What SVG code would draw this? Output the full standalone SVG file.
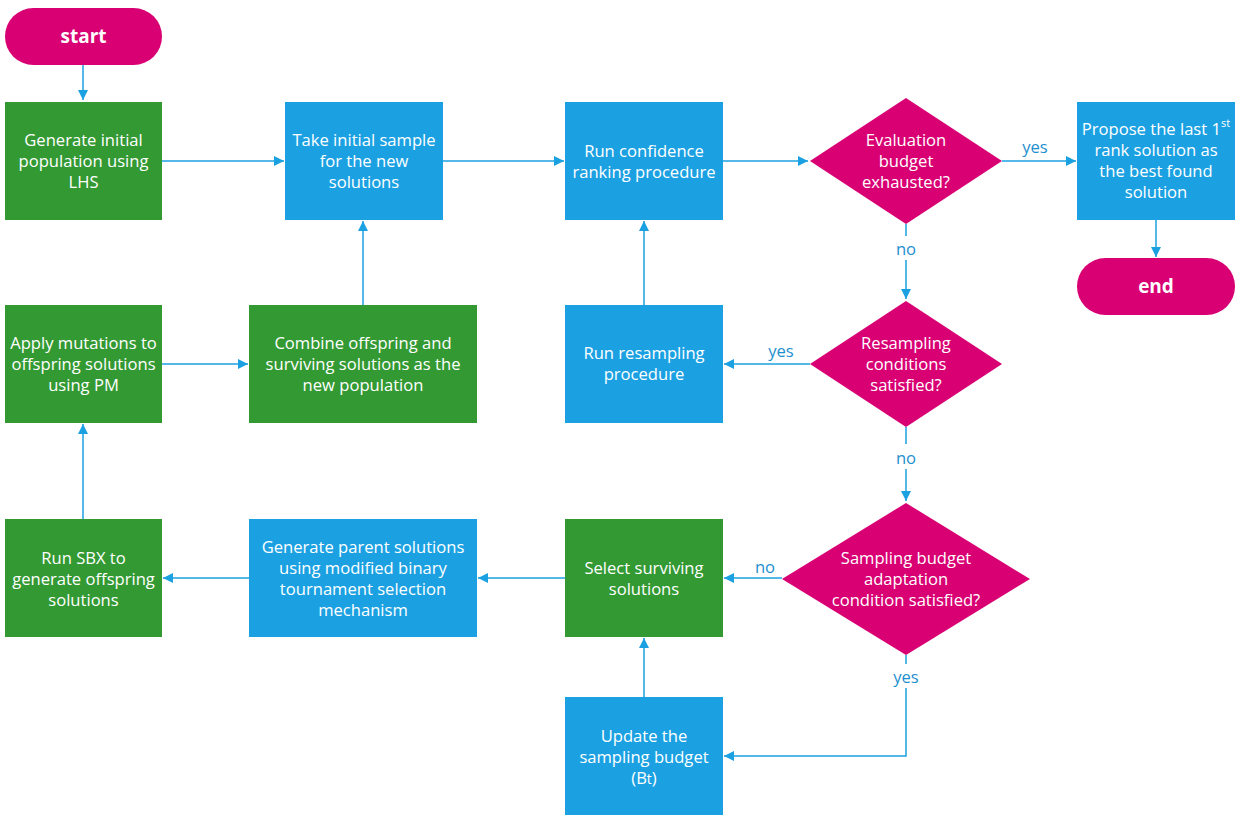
<svg xmlns="http://www.w3.org/2000/svg" width="1240" height="820" viewBox="0 0 1240 820">
<defs>
<marker id="ah" viewBox="0 0 10 10" refX="10" refY="5" markerWidth="10" markerHeight="10" markerUnits="userSpaceOnUse" orient="auto">
<path d="M0,0 L10,5 L0,10 z" fill="#1BA1E2"/>
</marker>
<style>
.g{fill:#339933}
.b{fill:#1BA1E2}
.m{fill:#D80073}
.t{font-family:"Open Sans","Noto Sans",sans-serif;font-size:16.6px;fill:#ffffff;text-anchor:middle;dominant-baseline:central}
.tb{font-family:"Open Sans","Noto Sans",sans-serif;font-size:19px;font-weight:bold;fill:#ffffff;text-anchor:middle;dominant-baseline:central}
.c{fill:none;stroke:#1BA1E2;stroke-width:1.5;marker-end:url(#ah)}
.cn{fill:none;stroke:#1BA1E2;stroke-width:1.5}
.l{font-family:"Open Sans","Noto Sans",sans-serif;font-size:16.6px;fill:#1E8FCF;text-anchor:middle;dominant-baseline:central}
</style>
</defs>
<rect width="1240" height="820" fill="#ffffff"/>
<g id="connectors">
<path class="c" d="M83,65 V100"/>
<path class="c" d="M162,161 H284"/>
<path class="c" d="M443,161 H564"/>
<path class="c" d="M723,161 H808"/>
<path class="c" d="M1002,161 H1076"/>
<text class="l" x="1035" y="146">yes</text>
<path class="c" d="M1156,220 V257"/>
<path class="cn" d="M906,224 V236"/>
<text class="l" x="906" y="248">no</text>
<path class="c" d="M906,260 V299"/>
<path class="c" d="M810,364 H724"/>
<text class="l" x="781" y="350">yes</text>
<path class="c" d="M644,305 V221"/>
<path class="cn" d="M906,427 V444"/>
<text class="l" x="906" y="457">no</text>
<path class="c" d="M906,469 V501"/>
<path class="c" d="M782,578 H724"/>
<text class="l" x="765" y="566">no</text>
<path class="cn" d="M906,655 V664"/>
<text class="l" x="906" y="676">yes</text>
<path class="c" d="M906,688 V756 H724"/>
<path class="c" d="M644,697 V638"/>
<path class="c" d="M565,578 H478"/>
<path class="c" d="M249,578 H163"/>
<path class="c" d="M83,519 V424"/>
<path class="c" d="M162,364 H248"/>
<path class="c" d="M363,305 V221"/>
</g>
<g id="start">
<rect class="m" x="5" y="8" width="157" height="57" rx="28.5"/>
<text class="tb" x="83.5" y="36">start</text>
</g>
<g id="gen-init">
<rect class="g" x="5" y="102" width="157" height="118"/>
<text class="t" x="83.5" y="139">Generate initial</text>
<text class="t" x="83.5" y="160">population using</text>
<text class="t" x="83.5" y="181">LHS</text>
</g>
<g id="take-sample">
<rect class="b" x="285" y="102" width="158" height="118"/>
<text class="t" x="364" y="139">Take initial sample</text>
<text class="t" x="364" y="160">for the new</text>
<text class="t" x="364" y="181">solutions</text>
</g>
<g id="run-ranking">
<rect class="b" x="565" y="102" width="158" height="118"/>
<text class="t" x="644" y="150">Run confidence</text>
<text class="t" x="644" y="171">ranking procedure</text>
</g>
<g id="eval-budget">
<polygon class="m" points="906,98 1002,161 906,224 810,161"/>
<text class="t" x="906" y="139">Evaluation</text>
<text class="t" x="906" y="160">budget</text>
<text class="t" x="906" y="181">exhausted?</text>
</g>
<g id="propose">
<rect class="b" x="1077" y="102" width="158" height="118"/>
<text class="t" x="1156" y="128">Propose the last 1<tspan font-size="11" dy="-6">st</tspan></text>
<text class="t" x="1156" y="149">rank solution as</text>
<text class="t" x="1156" y="170">the best found</text>
<text class="t" x="1156" y="191">solution</text>
</g>
<g id="end">
<rect class="m" x="1077" y="258" width="158" height="57" rx="28.5"/>
<text class="tb" x="1156" y="286">end</text>
</g>
<g id="apply-mutations">
<rect class="g" x="5" y="305" width="157" height="118"/>
<text class="t" x="83.5" y="342">Apply mutations to</text>
<text class="t" x="83.5" y="363">offspring solutions</text>
<text class="t" x="83.5" y="384">using PM</text>
</g>
<g id="combine">
<rect class="g" x="249" y="305" width="228" height="118"/>
<text class="t" x="363" y="342">Combine offspring and</text>
<text class="t" x="363" y="363">surviving solutions as the</text>
<text class="t" x="363" y="384">new population</text>
</g>
<g id="run-resampling">
<rect class="b" x="565" y="305" width="158" height="118"/>
<text class="t" x="644" y="352">Run resampling</text>
<text class="t" x="644" y="373">procedure</text>
</g>
<g id="resampling-cond">
<polygon class="m" points="906,301 1002,364 906,427 810,364"/>
<text class="t" x="906" y="342">Resampling</text>
<text class="t" x="906" y="363">conditions</text>
<text class="t" x="906" y="384">satisfied?</text>
</g>
<g id="run-sbx">
<rect class="g" x="5" y="519" width="157" height="118"/>
<text class="t" x="83.5" y="557">Run SBX to</text>
<text class="t" x="83.5" y="578">generate offspring</text>
<text class="t" x="83.5" y="599">solutions</text>
</g>
<g id="gen-parent">
<rect class="b" x="249" y="519" width="228" height="118"/>
<text class="t" x="363" y="546">Generate parent solutions</text>
<text class="t" x="363" y="567">using modified binary</text>
<text class="t" x="363" y="588">tournament selection</text>
<text class="t" x="363" y="609">mechanism</text>
</g>
<g id="select-surviving">
<rect class="g" x="565" y="519" width="158" height="118"/>
<text class="t" x="644" y="567">Select surviving</text>
<text class="t" x="644" y="588">solutions</text>
</g>
<g id="sampling-cond">
<polygon class="m" points="906,503 1030,579 906,655 782,579"/>
<text class="t" x="906" y="557">Sampling budget</text>
<text class="t" x="906" y="578">adaptation</text>
<text class="t" x="906" y="599">condition satisfied?</text>
</g>
<g id="update-budget">
<rect class="b" x="565" y="697" width="158" height="118"/>
<text class="t" x="644" y="735">Update the</text>
<text class="t" x="644" y="756">sampling budget</text>
<text class="t" x="644" y="777">(B<tspan font-size="14" dy="1">t</tspan><tspan dy="-1">)</tspan></text>
</g>
</svg>
